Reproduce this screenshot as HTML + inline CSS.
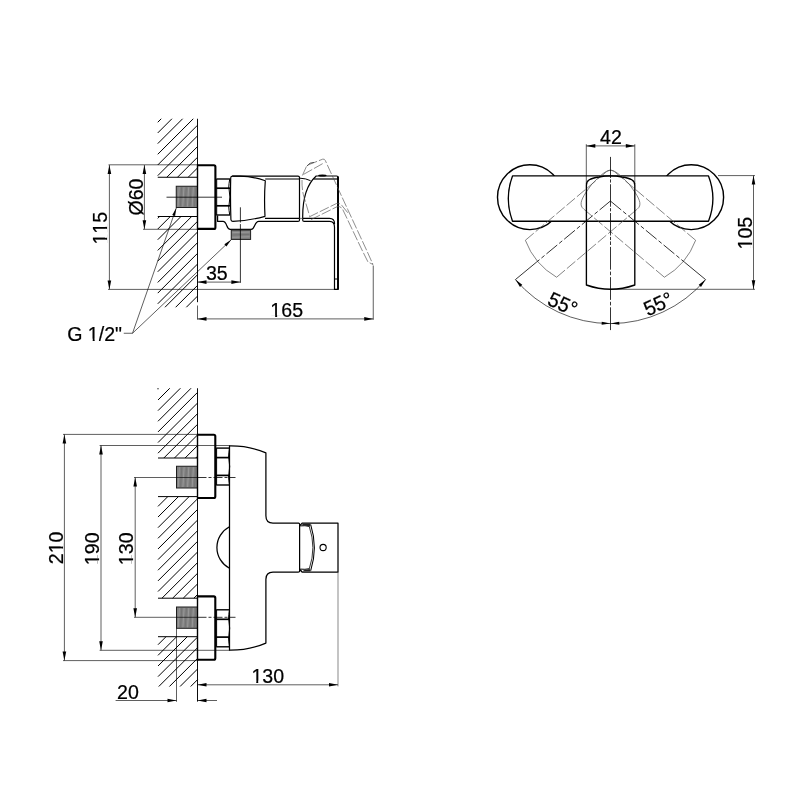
<!DOCTYPE html>
<html><head><meta charset="utf-8"><title>Mixer dimensions</title>
<style>
html,body{margin:0;padding:0;background:#fff;}
body{width:800px;height:800px;overflow:hidden;}
svg{display:block;filter:grayscale(1);}
text{font-family:"Liberation Sans",sans-serif;fill:#000;font-kerning:none;stroke:#000;stroke-width:0.22px;}
</style></head><body>
<svg width="800" height="800" viewBox="0 0 800 800">
<rect width="800" height="800" fill="#fff"/>
<line x1="157.75" y1="122.25" x2="161.25" y2="118.75" stroke="#000" stroke-width="1.0" stroke-linecap="butt"/>
<line x1="157.75" y1="132.93" x2="171.93" y2="118.75" stroke="#000" stroke-width="1.0" stroke-linecap="butt"/>
<line x1="157.75" y1="143.61" x2="182.61" y2="118.75" stroke="#000" stroke-width="1.0" stroke-linecap="butt"/>
<line x1="157.75" y1="154.29" x2="193.29" y2="118.75" stroke="#000" stroke-width="1.0" stroke-linecap="butt"/>
<line x1="157.75" y1="164.97" x2="197.50" y2="125.22" stroke="#000" stroke-width="1.0" stroke-linecap="butt"/>
<line x1="157.75" y1="175.65" x2="197.50" y2="135.90" stroke="#000" stroke-width="1.0" stroke-linecap="butt"/>
<line x1="166.83" y1="177.25" x2="197.50" y2="146.58" stroke="#000" stroke-width="1.0" stroke-linecap="butt"/>
<line x1="177.51" y1="177.25" x2="197.50" y2="157.26" stroke="#000" stroke-width="1.0" stroke-linecap="butt"/>
<line x1="188.19" y1="177.25" x2="197.50" y2="167.94" stroke="#000" stroke-width="1.0" stroke-linecap="butt"/>
<line x1="157.75" y1="218.37" x2="159.62" y2="216.50" stroke="#000" stroke-width="1.0" stroke-linecap="butt"/>
<line x1="157.75" y1="229.05" x2="170.30" y2="216.50" stroke="#000" stroke-width="1.0" stroke-linecap="butt"/>
<line x1="157.75" y1="239.73" x2="180.98" y2="216.50" stroke="#000" stroke-width="1.0" stroke-linecap="butt"/>
<line x1="157.75" y1="250.41" x2="191.66" y2="216.50" stroke="#000" stroke-width="1.0" stroke-linecap="butt"/>
<line x1="157.75" y1="261.09" x2="197.50" y2="221.34" stroke="#000" stroke-width="1.0" stroke-linecap="butt"/>
<line x1="157.75" y1="271.77" x2="197.50" y2="232.02" stroke="#000" stroke-width="1.0" stroke-linecap="butt"/>
<line x1="157.75" y1="282.45" x2="197.50" y2="242.70" stroke="#000" stroke-width="1.0" stroke-linecap="butt"/>
<line x1="157.75" y1="293.13" x2="197.50" y2="253.38" stroke="#000" stroke-width="1.0" stroke-linecap="butt"/>
<line x1="157.75" y1="303.81" x2="197.50" y2="264.06" stroke="#000" stroke-width="1.0" stroke-linecap="butt"/>
<line x1="164.99" y1="307.25" x2="197.50" y2="274.74" stroke="#000" stroke-width="1.0" stroke-linecap="butt"/>
<line x1="175.67" y1="307.25" x2="197.50" y2="285.42" stroke="#000" stroke-width="1.0" stroke-linecap="butt"/>
<line x1="186.35" y1="307.25" x2="197.50" y2="296.10" stroke="#000" stroke-width="1.0" stroke-linecap="butt"/>
<line x1="157.75" y1="177.25" x2="197.50" y2="177.25" stroke="#000" stroke-width="1.0" stroke-linecap="butt"/>
<line x1="157.75" y1="216.50" x2="197.50" y2="216.50" stroke="#000" stroke-width="1.0" stroke-linecap="butt"/>
<line x1="197.50" y1="118.75" x2="197.50" y2="302.20" stroke="#000" stroke-width="0.95" stroke-linecap="butt"/>
<line x1="197.50" y1="305.50" x2="197.50" y2="319.60" stroke="#000" stroke-width="0.63" stroke-linecap="butt"/>
<rect x="176.25" y="186.25" width="21.25" height="21.25" fill="#818181" stroke="#1e1e1e" stroke-width="1.0"/>
<line x1="179.21" y1="187.25" x2="178.01" y2="206.50" stroke="#a2a2a2" stroke-width="0.7" stroke-linecap="butt"/>
<line x1="181.57" y1="187.25" x2="180.37" y2="206.50" stroke="#6e6e6e" stroke-width="0.7" stroke-linecap="butt"/>
<line x1="183.93" y1="187.25" x2="182.73" y2="206.50" stroke="#a2a2a2" stroke-width="0.7" stroke-linecap="butt"/>
<line x1="186.29" y1="187.25" x2="185.09" y2="206.50" stroke="#6e6e6e" stroke-width="0.7" stroke-linecap="butt"/>
<line x1="188.66" y1="187.25" x2="187.46" y2="206.50" stroke="#a2a2a2" stroke-width="0.7" stroke-linecap="butt"/>
<line x1="191.02" y1="187.25" x2="189.82" y2="206.50" stroke="#6e6e6e" stroke-width="0.7" stroke-linecap="butt"/>
<line x1="193.38" y1="187.25" x2="192.18" y2="206.50" stroke="#a2a2a2" stroke-width="0.7" stroke-linecap="butt"/>
<line x1="195.74" y1="187.25" x2="194.54" y2="206.50" stroke="#6e6e6e" stroke-width="0.7" stroke-linecap="butt"/>
<line x1="166.50" y1="197.20" x2="222.00" y2="197.20" stroke="#000" stroke-width="0.8" stroke-linecap="butt"/>
<line x1="108.50" y1="164.80" x2="197.50" y2="164.80" stroke="#000" stroke-width="0.63" stroke-linecap="butt"/>
<line x1="143.00" y1="229.30" x2="197.50" y2="229.30" stroke="#000" stroke-width="0.63" stroke-linecap="butt"/>
<line x1="108.00" y1="289.40" x2="338.00" y2="289.40" stroke="#000" stroke-width="0.63" stroke-linecap="butt"/>
<path d="M197.5,165.3 H213.9 Q215.4,165.3 215.4,166.8 V227.4 Q215.4,228.9 213.9,228.9 H197.5" stroke="#000" stroke-width="2.1" fill="none" stroke-linejoin="round" stroke-linecap="butt"/>
<line x1="197.50" y1="164.30" x2="197.50" y2="230.00" stroke="#000" stroke-width="1.4" stroke-linecap="butt"/>
<line x1="216.30" y1="179.00" x2="230.00" y2="179.00" stroke="#000" stroke-width="1.4" stroke-linecap="butt"/>
<line x1="216.30" y1="188.20" x2="230.00" y2="188.20" stroke="#000" stroke-width="1.7" stroke-linecap="butt"/>
<line x1="216.30" y1="205.80" x2="230.00" y2="205.80" stroke="#000" stroke-width="1.7" stroke-linecap="butt"/>
<line x1="216.30" y1="215.00" x2="230.00" y2="215.00" stroke="#000" stroke-width="1.4" stroke-linecap="butt"/>
<line x1="216.70" y1="179.00" x2="216.70" y2="215.00" stroke="#000" stroke-width="1.0" stroke-linecap="butt"/>
<path d="M229.7,179.0 Q228.89999999999998,183.6 228.7,188.2 M229.0,188.5 Q230.79999999999998,197.0 229.0,205.5 M228.7,205.8 Q228.89999999999998,210.4 229.7,215.0" stroke="#000" stroke-width="1.0" fill="none" stroke-linejoin="round" stroke-linecap="butt"/>
<path d="M217.6,215.4 V221.4 H223 C227.2,221.4 226.2,229.4 230.2,229.4 H251.2 C255.2,229.4 254.2,221.4 258.75,221.4 H298 Q299.5,221.4 299.5,219.9 V177.6 Q299.5,176.1 298,176.1 H232.2" stroke="#000" stroke-width="1.2" fill="none" stroke-linejoin="round" stroke-linecap="butt"/>
<line x1="265.20" y1="179.00" x2="299.50" y2="179.00" stroke="#000" stroke-width="1.2" stroke-linecap="butt"/>
<line x1="265.00" y1="218.40" x2="299.50" y2="218.40" stroke="#000" stroke-width="1.2" stroke-linecap="butt"/>
<path d="M232.3,176.1 Q230.7,176.2 230.7,178 Q230.2,198 230.9,219.5 Q231,221.3 232.8,221.3 C240,221.1 252,219.9 265,216.3 Q264.0,198 265.3,180.8 C255,177.2 248,176.3 240,176.1 Z" stroke="#000" stroke-width="1.2" fill="none" stroke-linejoin="round" stroke-linecap="butt"/>
<rect x="231.25" y="230.0" width="19.349999999999994" height="9.400000000000006" fill="#818181" stroke="#1e1e1e" stroke-width="1.0"/>
<line x1="232.25" y1="232.65" x2="249.60" y2="232.05" stroke="#a4a4a4" stroke-width="0.7" stroke-linecap="butt"/>
<line x1="232.25" y1="235.00" x2="249.60" y2="234.40" stroke="#6c6c6c" stroke-width="0.7" stroke-linecap="butt"/>
<line x1="232.25" y1="237.35" x2="249.60" y2="236.75" stroke="#a4a4a4" stroke-width="0.7" stroke-linecap="butt"/>
<line x1="240.40" y1="207.30" x2="240.40" y2="282.80" stroke="#000" stroke-width="0.8" stroke-dasharray="15.2 1.6 100" stroke-linecap="butt"/>
<path d="M302.7,218.6 C302.5,205 305,186 316.2,176.0 H336.6 Q338.05,176.0 338.05,177.5 V289.4 H334.5 V227 Q334.5,221.4 329.5,221.4 H304.2 Q302.7,221.4 302.7,219.9 Z" stroke="#000" stroke-width="1.2" fill="none" stroke-linejoin="round" stroke-linecap="butt"/>
<path d="M313.6,179 H338" stroke="#000" stroke-width="1.2" fill="none" stroke-linejoin="round" stroke-linecap="butt"/>
<line x1="338.00" y1="176.60" x2="338.00" y2="289.40" stroke="#000" stroke-width="1.9" stroke-linecap="butt"/>
<path d="M303,218.4 H329.5 Q334.6,218.5 334.6,224" stroke="#000" stroke-width="1.1" fill="none" stroke-linejoin="round" stroke-linecap="butt"/>
<line x1="299.50" y1="218.40" x2="302.70" y2="218.40" stroke="#555" stroke-width="0.8" stroke-linecap="butt"/>
<line x1="334.40" y1="279.00" x2="338.00" y2="279.00" stroke="#000" stroke-width="1.0" stroke-linecap="butt"/>
<path d="M300.0,178.2 Q306,178.4 310.6,180.7" stroke="#000" stroke-width="1.0" fill="none" stroke-linejoin="round" stroke-linecap="butt"/>
<ellipse cx="322.4" cy="175.5" rx="4.2" ry="1.1" fill="#000"/>
<path d="M302.4,175.5 L306.9,165.4 L322.6,159.2 Q324.4,158.6 325.3,160.5 L338.75,190 L347.75,209.5 L366.5,250 L373,264.5" stroke="#505050" stroke-width="0.65" fill="none" stroke-dasharray="10 2" stroke-linejoin="round" stroke-linecap="butt"/>
<path d="M303.5,174.4 L324.5,162.6" stroke="#505050" stroke-width="0.65" fill="none" stroke-dasharray="10 2" stroke-linejoin="round" stroke-linecap="butt"/>
<path d="M307,166 L310,163.2 L314,162.4" stroke="#505050" stroke-width="1.0" fill="none" stroke-linejoin="round" stroke-linecap="butt"/>
<path d="M302,180 Q301.8,190 304,197 L309.5,215.5" stroke="#505050" stroke-width="0.65" fill="none" stroke-dasharray="10 2" stroke-linejoin="round" stroke-linecap="butt"/>
<path d="M309,217 L336.5,203.5 Q340,202.8 342,205.6 L348,213" stroke="#505050" stroke-width="0.65" fill="none" stroke-dasharray="10 2" stroke-linejoin="round" stroke-linecap="butt"/>
<path d="M311,219.6 L337.25,206.6 Q340.6,206 342.6,209.2 L362,250 L368,262 L373,264.5" stroke="#505050" stroke-width="0.65" fill="none" stroke-dasharray="10 2" stroke-linejoin="round" stroke-linecap="butt"/>
<line x1="373.25" y1="265.50" x2="373.25" y2="319.80" stroke="#000" stroke-width="0.63" stroke-linecap="butt"/>
<line x1="109.40" y1="165.00" x2="109.40" y2="289.30" stroke="#000" stroke-width="0.63" stroke-linecap="butt"/>
<polygon points="109.40,164.90 111.20,173.90 107.60,173.90" fill="#000"/>
<polygon points="109.40,289.40 107.60,280.40 111.20,280.40" fill="#000"/>
<line x1="144.40" y1="165.00" x2="144.40" y2="229.30" stroke="#000" stroke-width="0.63" stroke-linecap="butt"/>
<polygon points="144.40,164.90 146.20,173.90 142.60,173.90" fill="#000"/>
<polygon points="144.40,229.30 142.60,220.30 146.20,220.30" fill="#000"/>
<line x1="197.50" y1="282.10" x2="240.40" y2="282.10" stroke="#000" stroke-width="0.63" stroke-linecap="butt"/>
<polygon points="197.50,282.10 206.50,280.30 206.50,283.90" fill="#000"/>
<polygon points="240.40,282.10 231.40,283.90 231.40,280.30" fill="#000"/>
<line x1="197.50" y1="318.90" x2="373.25" y2="318.90" stroke="#000" stroke-width="0.63" stroke-linecap="butt"/>
<polygon points="197.50,318.90 206.50,317.10 206.50,320.70" fill="#000"/>
<polygon points="373.25,318.90 364.25,320.70 364.25,317.10" fill="#000"/>
<line x1="123.75" y1="333.25" x2="132.50" y2="333.25" stroke="#000" stroke-width="0.63" stroke-linecap="butt"/>
<line x1="132.50" y1="333.25" x2="176.30" y2="207.90" stroke="#000" stroke-width="0.63" stroke-linecap="butt"/>
<polygon points="176.30,207.90 175.08,215.95 172.25,214.96" fill="#000"/>
<line x1="132.50" y1="333.25" x2="231.20" y2="239.80" stroke="#000" stroke-width="0.63" stroke-linecap="butt"/>
<polygon points="231.20,239.80 226.42,246.39 224.36,244.21" fill="#000"/>
<g transform="translate(106.90 228.20) rotate(-90) scale(1 1.055)"><text x="0" y="0" font-size="19.6" text-anchor="middle">115</text>
<rect x="-15.67" y="-1.80" width="4.12" height="2.35" fill="#fff"/>
<rect x="-9.57" y="-1.80" width="4.18" height="2.35" fill="#fff"/>
<rect x="-4.76" y="-1.80" width="4.12" height="2.35" fill="#fff"/>
<rect x="1.33" y="-1.80" width="4.18" height="2.35" fill="#fff"/>
</g>
<g transform="translate(142.60 197.00) rotate(-90) scale(1 1.055)"><text x="0" y="0" font-size="19.6" text-anchor="middle">Ø60</text>
</g>
<g transform="translate(216.80 280.00) scale(1 1.055)"><text x="0" y="0" font-size="19.6" text-anchor="middle">35</text>
</g>
<g transform="translate(286.70 317.00) scale(1 1.055)"><text x="0" y="0" font-size="19.6" text-anchor="middle">165</text>
<rect x="-15.67" y="-1.80" width="4.12" height="2.35" fill="#fff"/>
<rect x="-9.57" y="-1.80" width="4.18" height="2.35" fill="#fff"/>
</g>
<g transform="translate(67.20 340.60) scale(1 1.055)"><text x="0" y="0" font-size="19.6" text-anchor="start">G 1/2"</text>
<rect x="21.38" y="-1.80" width="4.12" height="2.35" fill="#fff"/>
<rect x="27.47" y="-1.80" width="4.18" height="2.35" fill="#fff"/>
</g>
<circle cx="529.9" cy="197.2" r="32.4" fill="none" stroke="#000" stroke-width="1.4"/>
<circle cx="691.2" cy="197.2" r="32.4" fill="none" stroke="#000" stroke-width="1.4"/>
<path d="M512.5,175.9 H708.5 Q717.3,198.5 708.5,221.2 H512.5 Q504.1,198.5 512.5,175.9 Z" stroke="#000" stroke-width="1.35" fill="#fff" stroke-linejoin="round" stroke-linecap="butt"/>
<g transform="rotate(49.8 610.5 197.4) translate(2.0 -1.4)">
<path d="M586.3,291.5 V185.5" stroke="#505050" stroke-width="0.65" fill="none" stroke-dasharray="11 2.5" stroke-linejoin="round" stroke-linecap="butt"/>
<path d="M634.7,291.5 V185.5" stroke="#505050" stroke-width="0.65" fill="none" stroke-dasharray="11 2.5" stroke-linejoin="round" stroke-linecap="butt"/>
<path d="M586.3,185.5 C586.3,180.3 591,178 600,176.9 Q610.6,175.0 621,176.9 C630,178 634.7,180.3 634.7,185.5" stroke="#505050" stroke-width="0.65" fill="none" stroke-linejoin="round" stroke-linecap="butt"/>
<path d="M586.3,291.5 Q610.5,300.1 634.7,291.5" stroke="#505050" stroke-width="0.65" fill="none" stroke-linejoin="round" stroke-linecap="butt"/>
</g>
<g transform="rotate(-49.8 610.5 197.4) translate(-2.0 -1.4)">
<path d="M586.3,291.5 V185.5" stroke="#505050" stroke-width="0.65" fill="none" stroke-dasharray="11 2.5" stroke-linejoin="round" stroke-linecap="butt"/>
<path d="M634.7,291.5 V185.5" stroke="#505050" stroke-width="0.65" fill="none" stroke-dasharray="11 2.5" stroke-linejoin="round" stroke-linecap="butt"/>
<path d="M586.3,185.5 C586.3,180.3 591,178 600,176.9 Q610.6,175.0 621,176.9 C630,178 634.7,180.3 634.7,185.5" stroke="#505050" stroke-width="0.65" fill="none" stroke-linejoin="round" stroke-linecap="butt"/>
<path d="M586.3,291.5 Q610.5,300.1 634.7,291.5" stroke="#505050" stroke-width="0.65" fill="none" stroke-linejoin="round" stroke-linecap="butt"/>
</g>
<path d="M586.4,285 V185.0 C586.4,180.3 590,178.4 599,177 Q610.6,174.8 622,177 C631,178.4 634.8,180.3 634.8,185.0 V285 Q610.5,293.6 586.4,285 Z" stroke="#000" stroke-width="1.35" fill="none" stroke-linejoin="round" stroke-linecap="butt"/>
<line x1="610.5" y1="156.9" x2="610.5" y2="241" stroke="#000" stroke-width="0.8" stroke-dasharray="22.5 1.4 3.2 1.65" stroke-dashoffset="1.4"/>
<line x1="610.5" y1="241" x2="610.5" y2="330.2" stroke="#000" stroke-width="0.8" stroke-dasharray="22.8 1.9 3.6 1.9" stroke-dashoffset="24.3"/>
<line x1="586.30" y1="144.20" x2="586.30" y2="184.00" stroke="#000" stroke-width="0.63" stroke-linecap="butt"/>
<line x1="634.80" y1="144.20" x2="634.80" y2="184.00" stroke="#000" stroke-width="0.63" stroke-linecap="butt"/>
<line x1="586.30" y1="145.90" x2="634.80" y2="145.90" stroke="#000" stroke-width="0.63" stroke-linecap="butt"/>
<polygon points="586.30,145.90 595.30,144.10 595.30,147.70" fill="#000"/>
<polygon points="634.80,145.90 625.80,147.70 625.80,144.10" fill="#000"/>
<g transform="translate(611.00 144.00) scale(1 1.055)"><text x="0" y="0" font-size="19.6" text-anchor="middle">42</text>
</g>
<line x1="718.00" y1="175.60" x2="755.00" y2="175.60" stroke="#000" stroke-width="0.63" stroke-linecap="butt"/>
<line x1="610.50" y1="289.30" x2="755.00" y2="289.30" stroke="#000" stroke-width="0.63" stroke-linecap="butt"/>
<line x1="753.50" y1="175.60" x2="753.50" y2="289.30" stroke="#000" stroke-width="0.63" stroke-linecap="butt"/>
<polygon points="753.50,175.60 755.30,184.60 751.70,184.60" fill="#000"/>
<polygon points="753.50,289.30 751.70,280.30 755.30,280.30" fill="#000"/>
<g transform="translate(752.00 233.10) rotate(-90) scale(1 1.055)"><text x="0" y="0" font-size="19.6" text-anchor="middle">105</text>
<rect x="-15.67" y="-1.80" width="4.12" height="2.35" fill="#fff"/>
<rect x="-9.57" y="-1.80" width="4.18" height="2.35" fill="#fff"/>
</g>
<line x1="610.40" y1="201.00" x2="536.30" y2="262.31" stroke="#000" stroke-width="0.8" stroke-dasharray="14 2.5 4 2.5" stroke-linecap="butt"/>
<line x1="536.30" y1="262.31" x2="515.40" y2="279.60" stroke="#000" stroke-width="0.8" stroke-linecap="butt"/>
<line x1="610.40" y1="201.00" x2="684.66" y2="262.31" stroke="#000" stroke-width="0.8" stroke-dasharray="14 2.5 4 2.5" stroke-linecap="butt"/>
<line x1="684.66" y1="262.31" x2="705.60" y2="279.60" stroke="#000" stroke-width="0.8" stroke-linecap="butt"/>
<path d="M515.4,279.6 A124.8,124.8 0 0 0 705.6,279.6" stroke="#000" stroke-width="0.63" fill="none" stroke-linejoin="round" stroke-linecap="butt"/>
<polygon points="515.40,279.60 522.23,284.87 520.02,286.89" fill="#000"/>
<polygon points="705.60,279.60 700.98,286.89 698.77,284.87" fill="#000"/>
<polygon points="610.20,323.60 601.63,324.65 601.79,321.66" fill="#000"/>
<polygon points="610.80,323.60 619.21,321.66 619.37,324.65" fill="#000"/>
<g transform="translate(559.85 310.45) rotate(24.4) scale(1 1.055)"><text x="0" y="0" font-size="19.6" text-anchor="middle">55°</text>
</g>
<g transform="translate(661.15 310.45) rotate(-24.4) scale(1 1.055)"><text x="0" y="0" font-size="19.6" text-anchor="middle">55°</text>
</g>
<line x1="158.00" y1="400.00" x2="169.75" y2="388.25" stroke="#000" stroke-width="1.0" stroke-linecap="butt"/>
<line x1="158.00" y1="410.64" x2="180.39" y2="388.25" stroke="#000" stroke-width="1.0" stroke-linecap="butt"/>
<line x1="158.00" y1="421.28" x2="191.03" y2="388.25" stroke="#000" stroke-width="1.0" stroke-linecap="butt"/>
<line x1="158.00" y1="431.92" x2="197.50" y2="392.42" stroke="#000" stroke-width="1.0" stroke-linecap="butt"/>
<line x1="158.00" y1="442.56" x2="197.50" y2="403.06" stroke="#000" stroke-width="1.0" stroke-linecap="butt"/>
<line x1="158.00" y1="453.20" x2="197.50" y2="413.70" stroke="#000" stroke-width="1.0" stroke-linecap="butt"/>
<line x1="163.84" y1="458.00" x2="197.50" y2="424.34" stroke="#000" stroke-width="1.0" stroke-linecap="butt"/>
<line x1="174.48" y1="458.00" x2="197.50" y2="434.98" stroke="#000" stroke-width="1.0" stroke-linecap="butt"/>
<line x1="185.12" y1="458.00" x2="197.50" y2="445.62" stroke="#000" stroke-width="1.0" stroke-linecap="butt"/>
<line x1="195.76" y1="458.00" x2="197.50" y2="456.26" stroke="#000" stroke-width="1.0" stroke-linecap="butt"/>
<line x1="158.00" y1="506.40" x2="167.80" y2="496.60" stroke="#000" stroke-width="1.0" stroke-linecap="butt"/>
<line x1="158.00" y1="517.04" x2="178.44" y2="496.60" stroke="#000" stroke-width="1.0" stroke-linecap="butt"/>
<line x1="158.00" y1="527.68" x2="189.08" y2="496.60" stroke="#000" stroke-width="1.0" stroke-linecap="butt"/>
<line x1="158.00" y1="538.32" x2="197.50" y2="498.82" stroke="#000" stroke-width="1.0" stroke-linecap="butt"/>
<line x1="158.00" y1="548.96" x2="197.50" y2="509.46" stroke="#000" stroke-width="1.0" stroke-linecap="butt"/>
<line x1="158.00" y1="559.60" x2="197.50" y2="520.10" stroke="#000" stroke-width="1.0" stroke-linecap="butt"/>
<line x1="158.00" y1="570.24" x2="197.50" y2="530.74" stroke="#000" stroke-width="1.0" stroke-linecap="butt"/>
<line x1="158.00" y1="580.88" x2="197.50" y2="541.38" stroke="#000" stroke-width="1.0" stroke-linecap="butt"/>
<line x1="158.00" y1="591.52" x2="197.50" y2="552.02" stroke="#000" stroke-width="1.0" stroke-linecap="butt"/>
<line x1="161.96" y1="598.20" x2="197.50" y2="562.66" stroke="#000" stroke-width="1.0" stroke-linecap="butt"/>
<line x1="172.60" y1="598.20" x2="197.50" y2="573.30" stroke="#000" stroke-width="1.0" stroke-linecap="butt"/>
<line x1="183.24" y1="598.20" x2="197.50" y2="583.94" stroke="#000" stroke-width="1.0" stroke-linecap="butt"/>
<line x1="193.88" y1="598.20" x2="197.50" y2="594.58" stroke="#000" stroke-width="1.0" stroke-linecap="butt"/>
<line x1="158.00" y1="644.72" x2="166.02" y2="636.70" stroke="#000" stroke-width="1.0" stroke-linecap="butt"/>
<line x1="158.00" y1="655.36" x2="176.66" y2="636.70" stroke="#000" stroke-width="1.0" stroke-linecap="butt"/>
<line x1="158.00" y1="666.00" x2="187.30" y2="636.70" stroke="#000" stroke-width="1.0" stroke-linecap="butt"/>
<line x1="158.00" y1="676.64" x2="197.50" y2="637.14" stroke="#000" stroke-width="1.0" stroke-linecap="butt"/>
<line x1="158.78" y1="686.50" x2="197.50" y2="647.78" stroke="#000" stroke-width="1.0" stroke-linecap="butt"/>
<line x1="169.42" y1="686.50" x2="197.50" y2="658.42" stroke="#000" stroke-width="1.0" stroke-linecap="butt"/>
<line x1="180.06" y1="686.50" x2="197.50" y2="669.06" stroke="#000" stroke-width="1.0" stroke-linecap="butt"/>
<line x1="190.70" y1="686.50" x2="197.50" y2="679.70" stroke="#000" stroke-width="1.0" stroke-linecap="butt"/>
<circle cx="158.0" cy="388.8" r="0.7" fill="#222"/>
<line x1="158.00" y1="458.00" x2="197.50" y2="458.00" stroke="#000" stroke-width="1.0" stroke-linecap="butt"/>
<line x1="158.00" y1="496.60" x2="197.50" y2="496.60" stroke="#000" stroke-width="1.0" stroke-linecap="butt"/>
<line x1="158.00" y1="598.20" x2="197.50" y2="598.20" stroke="#000" stroke-width="1.0" stroke-linecap="butt"/>
<line x1="158.00" y1="636.70" x2="197.50" y2="636.70" stroke="#000" stroke-width="1.0" stroke-linecap="butt"/>
<line x1="197.50" y1="388.25" x2="197.50" y2="701.60" stroke="#000" stroke-width="0.95" stroke-linecap="butt"/>
<rect x="176.5" y="466.25" width="21.0" height="21.75" fill="#818181" stroke="#1e1e1e" stroke-width="1.0"/>
<line x1="179.43" y1="467.25" x2="178.23" y2="487.00" stroke="#a2a2a2" stroke-width="0.7" stroke-linecap="butt"/>
<line x1="181.77" y1="467.25" x2="180.57" y2="487.00" stroke="#6e6e6e" stroke-width="0.7" stroke-linecap="butt"/>
<line x1="184.10" y1="467.25" x2="182.90" y2="487.00" stroke="#a2a2a2" stroke-width="0.7" stroke-linecap="butt"/>
<line x1="186.43" y1="467.25" x2="185.23" y2="487.00" stroke="#6e6e6e" stroke-width="0.7" stroke-linecap="butt"/>
<line x1="188.77" y1="467.25" x2="187.57" y2="487.00" stroke="#a2a2a2" stroke-width="0.7" stroke-linecap="butt"/>
<line x1="191.10" y1="467.25" x2="189.90" y2="487.00" stroke="#6e6e6e" stroke-width="0.7" stroke-linecap="butt"/>
<line x1="193.43" y1="467.25" x2="192.23" y2="487.00" stroke="#a2a2a2" stroke-width="0.7" stroke-linecap="butt"/>
<line x1="195.77" y1="467.25" x2="194.57" y2="487.00" stroke="#6e6e6e" stroke-width="0.7" stroke-linecap="butt"/>
<rect x="176.5" y="607.0" width="21.0" height="21.299999999999955" fill="#818181" stroke="#1e1e1e" stroke-width="1.0"/>
<line x1="179.43" y1="608.00" x2="178.23" y2="627.30" stroke="#a2a2a2" stroke-width="0.7" stroke-linecap="butt"/>
<line x1="181.77" y1="608.00" x2="180.57" y2="627.30" stroke="#6e6e6e" stroke-width="0.7" stroke-linecap="butt"/>
<line x1="184.10" y1="608.00" x2="182.90" y2="627.30" stroke="#a2a2a2" stroke-width="0.7" stroke-linecap="butt"/>
<line x1="186.43" y1="608.00" x2="185.23" y2="627.30" stroke="#6e6e6e" stroke-width="0.7" stroke-linecap="butt"/>
<line x1="188.77" y1="608.00" x2="187.57" y2="627.30" stroke="#a2a2a2" stroke-width="0.7" stroke-linecap="butt"/>
<line x1="191.10" y1="608.00" x2="189.90" y2="627.30" stroke="#6e6e6e" stroke-width="0.7" stroke-linecap="butt"/>
<line x1="193.43" y1="608.00" x2="192.23" y2="627.30" stroke="#a2a2a2" stroke-width="0.7" stroke-linecap="butt"/>
<line x1="195.77" y1="608.00" x2="194.57" y2="627.30" stroke="#6e6e6e" stroke-width="0.7" stroke-linecap="butt"/>
<line x1="63.00" y1="434.40" x2="197.50" y2="434.40" stroke="#000" stroke-width="0.63" stroke-linecap="butt"/>
<line x1="63.00" y1="660.60" x2="197.50" y2="660.60" stroke="#000" stroke-width="0.63" stroke-linecap="butt"/>
<line x1="99.60" y1="445.50" x2="230.00" y2="445.50" stroke="#000" stroke-width="0.63" stroke-linecap="butt"/>
<line x1="99.60" y1="650.30" x2="230.00" y2="650.30" stroke="#000" stroke-width="0.63" stroke-linecap="butt"/>
<line x1="134.00" y1="477.50" x2="197.50" y2="477.50" stroke="#000" stroke-width="0.63" stroke-linecap="butt"/>
<line x1="134.00" y1="617.30" x2="197.50" y2="617.30" stroke="#000" stroke-width="0.63" stroke-linecap="butt"/>
<line x1="197.50" y1="477.50" x2="235.50" y2="477.50" stroke="#000" stroke-width="0.8" stroke-dasharray="9 2 3 2" stroke-linecap="butt"/>
<line x1="197.50" y1="617.30" x2="235.50" y2="617.30" stroke="#000" stroke-width="0.8" stroke-dasharray="9 2 3 2" stroke-linecap="butt"/>
<path d="M197.5,434.8 H213.8 Q215.3,434.8 215.3,436.3 V496.5 Q215.3,498.0 213.8,498.0 H197.5" stroke="#000" stroke-width="2.1" fill="none" stroke-linejoin="round" stroke-linecap="butt"/>
<line x1="197.50" y1="433.80" x2="197.50" y2="499.00" stroke="#000" stroke-width="1.4" stroke-linecap="butt"/>
<path d="M197.5,596.4 H213.8 Q215.3,596.4 215.3,597.9 V658.3 Q215.3,659.8 213.8,659.8 H197.5" stroke="#000" stroke-width="2.1" fill="none" stroke-linejoin="round" stroke-linecap="butt"/>
<line x1="197.50" y1="595.40" x2="197.50" y2="660.80" stroke="#000" stroke-width="1.4" stroke-linecap="butt"/>
<line x1="216.20" y1="448.10" x2="229.80" y2="448.10" stroke="#000" stroke-width="1.4" stroke-linecap="butt"/>
<line x1="216.20" y1="457.60" x2="229.80" y2="457.60" stroke="#000" stroke-width="1.7" stroke-linecap="butt"/>
<line x1="216.20" y1="475.40" x2="229.80" y2="475.40" stroke="#000" stroke-width="1.7" stroke-linecap="butt"/>
<line x1="216.20" y1="485.00" x2="229.80" y2="485.00" stroke="#000" stroke-width="1.4" stroke-linecap="butt"/>
<line x1="216.60" y1="448.10" x2="216.60" y2="485.00" stroke="#000" stroke-width="1.0" stroke-linecap="butt"/>
<path d="M229.5,448.1 Q228.7,452.85 228.5,457.6 M228.8,457.90000000000003 Q230.6,466.5 228.8,475.09999999999997 M228.5,475.4 Q228.7,480.2 229.5,485.0" stroke="#000" stroke-width="1.0" fill="none" stroke-linejoin="round" stroke-linecap="butt"/>
<line x1="216.20" y1="609.80" x2="229.80" y2="609.80" stroke="#000" stroke-width="1.4" stroke-linecap="butt"/>
<line x1="216.20" y1="619.30" x2="229.80" y2="619.30" stroke="#000" stroke-width="1.7" stroke-linecap="butt"/>
<line x1="216.20" y1="637.10" x2="229.80" y2="637.10" stroke="#000" stroke-width="1.7" stroke-linecap="butt"/>
<line x1="216.20" y1="646.80" x2="229.80" y2="646.80" stroke="#000" stroke-width="1.4" stroke-linecap="butt"/>
<line x1="216.60" y1="609.80" x2="216.60" y2="646.80" stroke="#000" stroke-width="1.0" stroke-linecap="butt"/>
<path d="M229.5,609.8 Q228.7,614.55 228.5,619.3 M228.8,619.5999999999999 Q230.6,628.2 228.8,636.8000000000001 M228.5,637.1 Q228.7,641.95 229.5,646.8" stroke="#000" stroke-width="1.0" fill="none" stroke-linejoin="round" stroke-linecap="butt"/>
<path d="M229.5,650.2 V445.9 Q249,445.6 265.9,452.9 V515.8 Q265.9,523.2 273,523.2 H298.6 Q299.5,523.3 299.7,524.4 L300.4,525.2 L302.1,523.2 H338.0 V572.0 H302.1 L300.4,570.0 L299.7,570.8 Q299.5,571.9 298.6,572.0 H273 Q265.9,572.0 265.9,579.2 V643.1 Q249,650.4 229.5,650.2 Z" stroke="#000" stroke-width="1.25" fill="none" stroke-linejoin="round" stroke-linecap="butt"/>
<path d="M229.5,526.8 A23.4,23.4 0 0 0 229.5,568.3" stroke="#000" stroke-width="1.25" fill="none" stroke-linejoin="round" stroke-linecap="butt"/>
<line x1="299.60" y1="524.20" x2="299.60" y2="571.00" stroke="#000" stroke-width="1.25" stroke-linecap="butt"/>
<path d="M310.7,524.6 Q318.0,547.6 310.7,570.6" stroke="#000" stroke-width="1.05" fill="none" stroke-linejoin="round" stroke-linecap="butt"/>
<path d="M309.3,526.6 Q316.5,547.6 309.3,568.7" stroke="#000" stroke-width="0.8" fill="none" stroke-linejoin="round" stroke-linecap="butt"/>
<path d="M300.2,525.9 Q305,525.3 309.5,526.4" stroke="#000" stroke-width="1.0" fill="none" stroke-linejoin="round" stroke-linecap="butt"/>
<path d="M300.2,569.1 Q305,569.7 309.5,568.7" stroke="#000" stroke-width="1.0" fill="none" stroke-linejoin="round" stroke-linecap="butt"/>
<polygon points="302.3,523.6 310.3,523.6 310.7,524.8 309.5,526.4 305,525.5 302.3,525.4" fill="#222"/>
<polygon points="302.8,571.6 310.3,571.6 310.7,570.4 309.5,568.9 306,569.8 303.6,570.2" fill="#222"/>
<circle cx="323.1" cy="547.5" r="3.1" fill="none" stroke="#000" stroke-width="1.1"/>
<line x1="64.40" y1="434.40" x2="64.40" y2="660.60" stroke="#000" stroke-width="0.63" stroke-linecap="butt"/>
<polygon points="64.40,434.40 66.20,443.40 62.60,443.40" fill="#000"/>
<polygon points="64.40,660.60 62.60,651.60 66.20,651.60" fill="#000"/>
<line x1="101.00" y1="445.50" x2="101.00" y2="650.30" stroke="#000" stroke-width="0.63" stroke-linecap="butt"/>
<polygon points="101.00,445.50 102.80,454.50 99.20,454.50" fill="#000"/>
<polygon points="101.00,650.30 99.20,641.30 102.80,641.30" fill="#000"/>
<line x1="135.20" y1="477.50" x2="135.20" y2="617.30" stroke="#000" stroke-width="0.63" stroke-linecap="butt"/>
<polygon points="135.20,477.50 137.00,486.50 133.40,486.50" fill="#000"/>
<polygon points="135.20,617.30 133.40,608.30 137.00,608.30" fill="#000"/>
<g transform="translate(62.60 547.90) rotate(-90) scale(1 1.055)"><text x="0" y="0" font-size="19.6" text-anchor="middle">210</text>
<rect x="-4.76" y="-1.80" width="4.12" height="2.35" fill="#fff"/>
<rect x="1.33" y="-1.80" width="4.18" height="2.35" fill="#fff"/>
</g>
<g transform="translate(99.30 548.80) rotate(-90) scale(1 1.055)"><text x="0" y="0" font-size="19.6" text-anchor="middle">190</text>
<rect x="-15.67" y="-1.80" width="4.12" height="2.35" fill="#fff"/>
<rect x="-9.57" y="-1.80" width="4.18" height="2.35" fill="#fff"/>
</g>
<g transform="translate(133.30 548.80) rotate(-90) scale(1 1.055)"><text x="0" y="0" font-size="19.6" text-anchor="middle">130</text>
<rect x="-15.67" y="-1.80" width="4.12" height="2.35" fill="#fff"/>
<rect x="-9.57" y="-1.80" width="4.18" height="2.35" fill="#fff"/>
</g>
<line x1="338.00" y1="572.00" x2="338.00" y2="686.40" stroke="#444" stroke-width="0.63" stroke-linecap="butt"/>
<line x1="197.50" y1="684.80" x2="338.00" y2="684.80" stroke="#000" stroke-width="0.63" stroke-linecap="butt"/>
<polygon points="197.50,684.80 206.50,683.00 206.50,686.60" fill="#000"/>
<polygon points="338.00,684.80 329.00,686.60 329.00,683.00" fill="#000"/>
<g transform="translate(267.80 682.60) scale(1 1.055)"><text x="0" y="0" font-size="19.6" text-anchor="middle">130</text>
<rect x="-15.67" y="-1.80" width="4.12" height="2.35" fill="#fff"/>
<rect x="-9.57" y="-1.80" width="4.18" height="2.35" fill="#fff"/>
</g>
<line x1="176.50" y1="628.30" x2="176.50" y2="701.80" stroke="#000" stroke-width="0.63" stroke-linecap="butt"/>
<line x1="115.60" y1="700.50" x2="176.50" y2="700.50" stroke="#000" stroke-width="0.63" stroke-linecap="butt"/>
<polygon points="176.50,700.50 167.50,702.30 167.50,698.70" fill="#000"/>
<line x1="197.50" y1="700.50" x2="217.00" y2="700.50" stroke="#000" stroke-width="0.63" stroke-linecap="butt"/>
<polygon points="197.50,700.50 206.50,698.70 206.50,702.30" fill="#000"/>
<g transform="translate(128.00 698.50) scale(1 1.055)"><text x="0" y="0" font-size="19.6" text-anchor="middle">20</text>
</g>
</svg>
</body></html>
